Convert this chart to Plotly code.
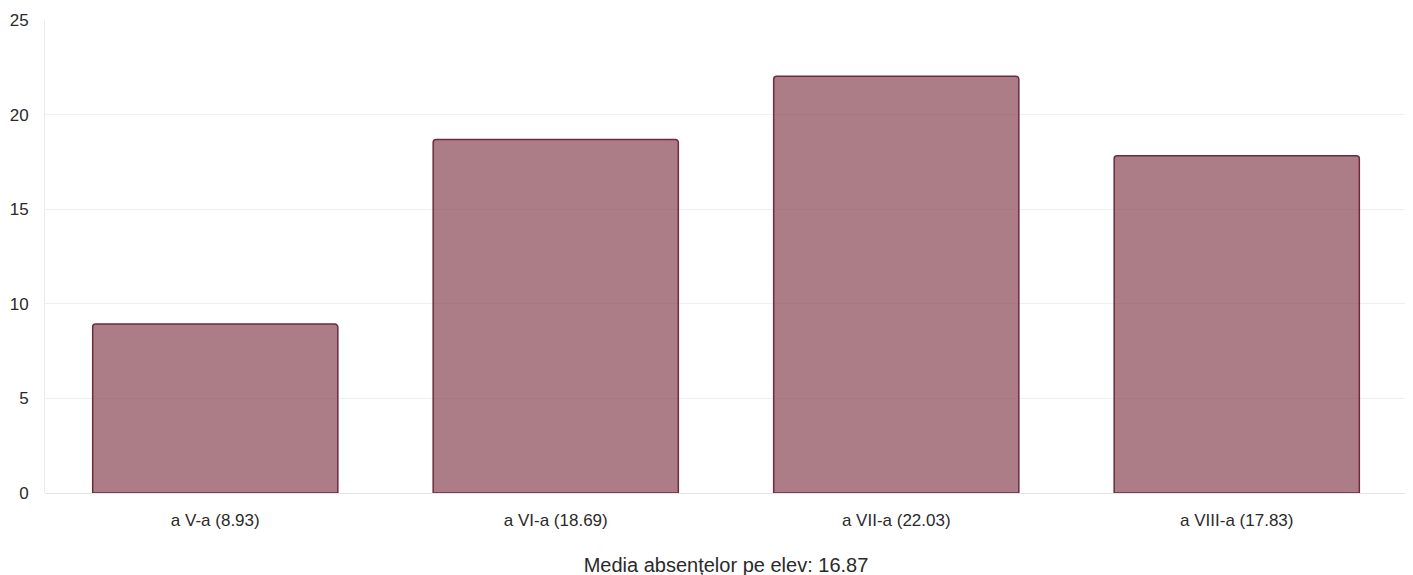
import plotly.graph_objects as go

categories = ["a V-a (8.93)", "a VI-a (18.69)", "a VII-a (22.03)", "a VIII-a (17.83)"]
values = [8.93, 18.69, 22.03, 17.83]
x_title = "Media absențelor pe elev: 16.87"
y_ticks = [0, 5, 10, 15, 20, 25]

fig = go.Figure(go.Bar(
    x=categories, y=values,
    marker=dict(color="rgba(118,38,55,0.6)",
                line=dict(color="#6e2a40", width=1.5),
                cornerradius=3),
    hoverinfo="x+y",
))

font = "Liberation Sans, Arial, sans-serif"
fig.update_layout(
    width=1413, height=575,
    margin=dict(l=37, r=14, t=12, b=90, autoexpand=False),
    paper_bgcolor="white", plot_bgcolor="white",
    bargap=0.28,
    showlegend=False,
    font=dict(family=font, size=17, color="#2a2a2a"),
)
fig.update_xaxes(
    title=dict(text=x_title, font=dict(size=20, color="#2a2a2a"), standoff=28),
    showgrid=False, showline=False, zeroline=False, automargin=False,
    ticks="", ticklabelstandoff=15, tickfont=dict(size=17, color="#2a2a2a"),
)
fig.update_yaxes(
    range=[0, 25], tickvals=y_ticks, ticktext=[str(v) for v in y_ticks],
    showgrid=True, gridcolor="rgba(110,30,50,0.08)", gridwidth=1,
    layer="above traces", automargin=False,
    zeroline=True, zerolinecolor="#e4e4e4", zerolinewidth=1,
    showline=True, linecolor="#ececec", linewidth=1,
    ticks="", ticklabelstandoff=12, tickfont=dict(size=17, color="#2a2a2a"),
)
fig.write_html("out.html")
